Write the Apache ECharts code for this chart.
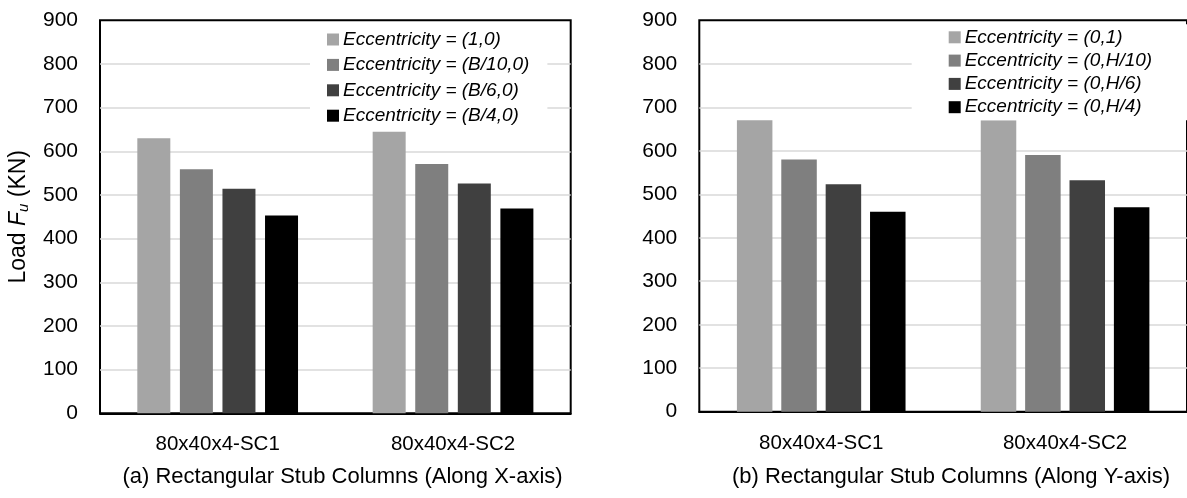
<!DOCTYPE html>
<html>
<head>
<meta charset="utf-8">
<script src="https://cdn.jsdelivr.net/npm/echarts@6/dist/echarts.min.js"></script>
<style>
  html, body { margin: 0; padding: 0; background: #fff; }
  #chart { width: 1187px; height: 498px; }
</style>
</head>
<body>
<div id="chart"></div>
<script>
// Specimens (shared by both panels)
const categories = ['80x40x4-SC1', '80x40x4-SC2'];

// Panel (a): eccentricity along the X-axis — ultimate load Fu (kN)
const namesX = ['Eccentricity = (1,0)', 'Eccentricity = (B/10,0)', 'Eccentricity = (B/6,0)', 'Eccentricity = (B/4,0)'];
const loadX_e1     = [630, 645];
const loadX_eB10   = [559, 571];
const loadX_eB6    = [514, 526];
const loadX_eB4    = [453, 469];

// Panel (b): eccentricity along the Y-axis — ultimate load Fu (kN)
const namesY = ['Eccentricity = (0,1)', 'Eccentricity = (0,H/10)', 'Eccentricity = (0,H/6)', 'Eccentricity = (0,H/4)'];
const loadY_e1     = [670, 670];
const loadY_eH10   = [580, 590];
const loadY_eH6    = [523, 532];
const loadY_eH4    = [460, 470];

// Axis ticks
const yMin = 0, yMax = 900, yStep = 100;

const panelTitles = ['(a) Rectangular Stub Columns (Along X-axis)', '(b) Rectangular Stub Columns (Along Y-axis)'];

const barColors = ['#A5A5A5', '#7F7F7F', '#404040', '#000000'];
const FONT = '"Liberation Sans", Arial, sans-serif';

function xAxisFor(gridIndex) {
  return {
    type: 'category', gridIndex, data: categories,
    axisTick: { show: false },
    axisLine: { lineStyle: { color: '#000', width: 2 } },
    axisLabel: { color: '#000', fontSize: 20.5, fontFamily: FONT, margin: 21 },
    splitLine: { show: false }
  };
}
function yAxisFor(gridIndex, withName) {
  const ax = {
    type: 'value', gridIndex, min: yMin, max: yMax, interval: yStep,
    axisLine: { show: false }, axisTick: { show: false },
    axisLabel: { color: '#000', fontSize: 21, fontFamily: FONT, margin: 22 },
    splitLine: { show: true, showMinLine: false, showMaxLine: false,
                 lineStyle: { color: '#D9D9D9', width: 1.5 } }
  };
  if (withName) {
    ax.name = '{n|Load }{i|F}{s|u}{n| (KN)}';
    ax.nameLocation = 'middle';
    ax.nameGap = 69;
    ax.nameTextStyle = {
      rich: {
        n: { fontSize: 23, fontFamily: FONT, color: '#000' },
        i: { fontSize: 23, fontFamily: FONT, color: '#000', fontStyle: 'italic' },
        s: { fontSize: 15, fontFamily: FONT, color: '#000', fontStyle: 'italic', padding: [10, 0, 0, 0] }
      }
    };
  }
  return ax;
}
function barSeries(name, data, idx, axisIndex, width, gap) {
  return {
    type: 'bar', name, data,
    xAxisIndex: axisIndex, yAxisIndex: axisIndex,
    barWidth: width, barGap: gap,
    itemStyle: { color: barColors[idx] },
    emphasis: { disabled: true }
  };
}
function legendFor(names, left, top, padding, gap) {
  return {
    data: names, orient: 'vertical', left, top, padding, itemGap: gap,
    itemWidth: 12, itemHeight: 12, icon: 'rect',
    backgroundColor: '#fff',
    textStyle: { fontSize: 19, fontStyle: 'italic', fontFamily: FONT, color: '#000', lineHeight: 20, padding: [0, 0, 0, -1] },
    selectedMode: false
  };
}

const option = {
  animation: false,
  backgroundColor: '#fff',
  grid: [
    { left: 100, top: 20.3, width: 470.7, height: 393, show: true, borderColor: '#000', borderWidth: 2, backgroundColor: 'transparent' },
    { left: 699.3, top: 20.3, width: 491, height: 391.4, show: true, borderColor: '#000', borderWidth: 2, backgroundColor: 'transparent' }
  ],
  xAxis: [xAxisFor(0), xAxisFor(1)],
  yAxis: [yAxisFor(0, true), yAxisFor(1, false)],
  legend: [
    legendFor(namesX, 310, 24.5, [5, 18, 5, 17], 5.4),
    legendFor(namesY, 911.7, 24.3, [3, 60, 3, 37], 3.3)
  ],
  series: [
    barSeries(namesX[0], loadX_e1,   0, 0, 33, '29%'),
    barSeries(namesX[1], loadX_eB10, 1, 0, 33, '29%'),
    barSeries(namesX[2], loadX_eB6,  2, 0, 33, '29%'),
    barSeries(namesX[3], loadX_eB4,  3, 0, 33, '29%'),
    barSeries(namesY[0], loadY_e1,   0, 1, 35.5, '25%'),
    barSeries(namesY[1], loadY_eH10, 1, 1, 35.5, '25%'),
    barSeries(namesY[2], loadY_eH6,  2, 1, 35.5, '25%'),
    barSeries(namesY[3], loadY_eH4,  3, 1, 35.5, '25%')
  ],
  graphic: [
    { type: 'text', x: 342.5, y: 476.5, style: { text: panelTitles[0], fontSize: 22, fontFamily: FONT, fill: '#000', align: 'center', verticalAlign: 'middle' } },
    { type: 'text', x: 951, y: 476.5, style: { text: panelTitles[1], fontSize: 22, fontFamily: FONT, fill: '#000', align: 'center', verticalAlign: 'middle' } }
  ]
};

const chart = echarts.init(document.getElementById('chart'), null, { renderer: 'canvas' });
chart.setOption(option);
</script>
</body>
</html>
